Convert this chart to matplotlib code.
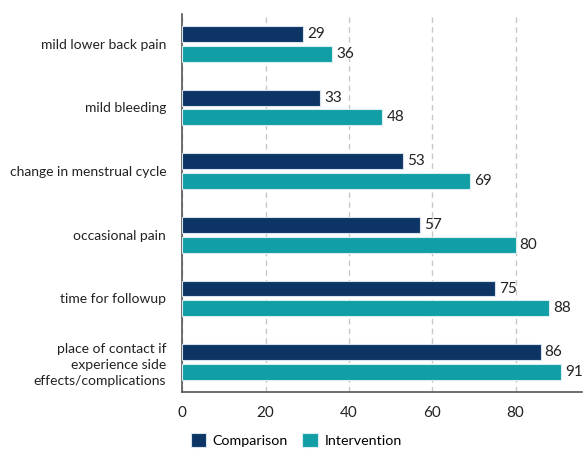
import numpy as np
import matplotlib.pyplot as plt

plt.rcParams['font.family'] = ['Lato', 'DejaVu Sans']

categories = ['mild lower back pain', 'mild bleeding', 'change in menstrual cycle',
              'occasional pain', 'time for followup',
              'place of contact if\nexperience side\neffects/complications']
comparison = [29, 33, 53, 57, 75, 86]
intervention = [36, 48, 69, 80, 88, 91]

c_comp = '#0c3464'
c_int = '#119ea4'

fig = plt.figure(figsize=(5.84, 4.5), dpi=100)
ax = fig.add_axes([0.312, 0.129, 0.685, 0.84])

y = np.arange(len(categories))
h = 0.25
off = 0.155
b1 = ax.barh(y - off, comparison, height=h, color=c_comp, edgecolor='#d8e2ec', linewidth=0.8,
             label='Comparison', zorder=3)
b2 = ax.barh(y + off, intervention, height=h, color=c_int, edgecolor='#d8eef0', linewidth=0.8,
             label='Intervention', zorder=3)

for bars in (b1, b2):
    for r in bars:
        ax.text(r.get_width() + 1.0, r.get_y() + r.get_height() / 2, '%d' % r.get_width(),
                va='center', ha='left', fontsize=11, color='#222222')

ax.set_yticks(y)
ax.set_yticklabels(categories, fontsize=10, color='#222222')
for t in ax.get_yticklabels():
    t.set_multialignment('right')
    t.set_linespacing(1.4)
ax.set_ylim(len(categories) - 0.53, -0.47)
ax.set_xlim(0, 96)
ax.set_xticks([0, 20, 40, 60, 80])
ax.tick_params(axis='both', length=0, colors='#222222')
ax.tick_params(axis='x', labelsize=11, pad=10)
ax.tick_params(axis='y', pad=11.5)

ax.grid(axis='x', linestyle=(0, (4, 3)), color='#c8c8c8', linewidth=1, zorder=0)
for s in ('top', 'right'):
    ax.spines[s].set_visible(False)
for s in ('left', 'bottom'):
    ax.spines[s].set_color('#555555')
    ax.spines[s].set_linewidth(1.2)

fig.legend(handles=[b1, b2], loc='lower center', bbox_to_anchor=(0.507, -0.022), ncol=2,
           frameon=False, fontsize=10.3, handlelength=1.1, handleheight=1.1,
           columnspacing=1.0, handletextpad=0.45)

plt.savefig('out.png', dpi=100)
